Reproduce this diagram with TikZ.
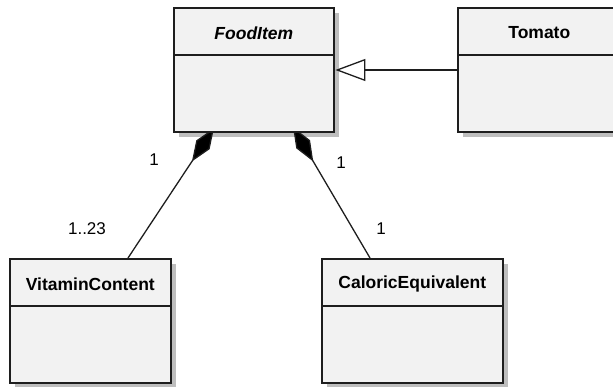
\documentclass[tikz,border=0pt]{standalone}
\usepackage{fontspec}
\setmainfont{Liberation Sans}
\usetikzlibrary{calc,arrows.meta}
\definecolor{boxfill}{HTML}{F2F2F2}
\definecolor{shadowgrey}{HTML}{BEBEBE}
\definecolor{edge}{HTML}{1E1E1E}
\begin{document}
\begin{tikzpicture}[x=1pt,y=-1pt,
  classbox/.style={draw=edge,line width=1.6pt,fill=boxfill,anchor=north west,inner sep=0pt,minimum height=124pt},
  shadowbox/.style={fill=shadowgrey,draw=none,anchor=north west,inner sep=0pt,minimum height=124pt},
  classtitle/.style={font=\fontsize{17.5}{20}\selectfont\bfseries,inner sep=0pt},
  mult/.style={font=\fontsize{17}{20}\selectfont,inner sep=0pt},
  divider/.style={draw=edge,line width=1.3pt},
  conn/.style={draw=edge,line width=1.3pt},
  compos/.style={conn,-{Diamond[length=40pt,width=16pt,fill=black]}},
  general/.style={conn,-{Triangle[open,length=30pt,width=22pt,fill=white]}}
]
\path[use as bounding box] (0,0) rectangle (613,387);
% shadows
\node[shadowbox,minimum width=160pt] (fiS) at (179,13) {};
\node[shadowbox,minimum width=163pt] (toS) at (463,13) {};
\node[shadowbox,minimum width=161pt] (vcS) at (15,264) {};
\node[shadowbox,minimum width=181pt] (ceS) at (327,264) {};
% boxes
\node[classbox,minimum width=160pt] (fi) at (173,7) {};
\node[classbox,minimum width=163pt] (to) at (457,7) {};
\node[classbox,minimum width=161pt] (vc) at (9,258) {};
\node[classbox,minimum width=181pt] (ce) at (321,258) {};
% dividers
\foreach \b in {fi,to,vc,ce}{
  \draw[divider] ($(\b.north west)+(0,48)$) -- ($(\b.north east)+(0,48)$);
}
% titles
\node[classtitle] (fiT) at ($(fi.north)+(0,26)$) {\textit{FoodItem}};
\node[classtitle] (toT) at ($(to.north)+(0,26)$) {Tomato};
\node[classtitle] (vcT) at ($(vc.north)+(0,26)$) {VitaminContent};
\node[classtitle] (ceT) at ($(ce.north)+(0,26)$) {CaloricEquivalent};
% composition connectors
\coordinate (vcTop) at ($(vc.north west)+(119,0)$);
\coordinate (ceTop) at ($(ce.north west)+(49,0)$);
\coordinate (fiLeft) at ($(fi.south west)+(41,-4.5)$);
\coordinate (fiRight) at ($(fi.south west)+(120,-5.6)$);
\begin{scope}
\clip ($(fi.south west)+(-60,0.8)$) rectangle ($(ce.north east)+(0,0)$);
\draw[compos] (vcTop) -- (fiLeft);
\draw[compos] (ceTop) -- (fiRight);
\end{scope}
% generalization
\coordinate (toL) at ($(to.north west)+(0,63)$);
\coordinate (fiR) at ($(fi.north east)+(0.8,63)$);
\draw[general] (toL) -- (fiR);
% multiplicities
\node[mult] (m1) at (154,160) {1};
\node[mult] (m2) at (87,229) {1..23};
\node[mult] (m3) at (341,163) {1};
\node[mult] (m4) at (381,229) {1};
\end{tikzpicture}
\end{document}
